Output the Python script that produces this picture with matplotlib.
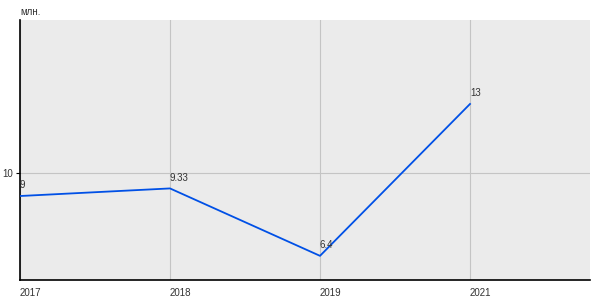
import matplotlib.pyplot as plt

plt.rcParams['font.family'] = ['Liberation Sans', 'DejaVu Sans']
plt.rcParams['font.size'] = 7

years = ['2017', '2018', '2019', '2021']
values = [9, 9.33, 6.4, 13]
value_labels = ['9', '9.33', '6.4', '13']
y_ticks = [10]

fig = plt.figure(figsize=(6, 3), dpi=100)
ax = fig.add_axes([20 / 600, 20 / 300, 570 / 600, 260 / 300])
ax.set_facecolor('#ebebeb')

x = list(range(len(years)))
ax.plot(x, values, color='#0050e6', linewidth=1.3, zorder=3)

for xi, v, lab in zip(x, values, value_labels):
    ax.annotate(lab, (xi, v), xytext=(0, 4), textcoords='offset points',
                ha='left', va='bottom', fontsize=7, color='#333333', zorder=4)

ax.set_xlim(0, 3.8)
ax.set_ylim(5.35, 16.65)
ax.set_xticks(x)
ax.set_xticklabels(years, ha='left')
ax.set_yticks(y_ticks)
ax.set_yticklabels([str(t) for t in y_ticks])
ax.tick_params(axis='x', length=0, pad=6, labelcolor='#333333')
ax.tick_params(axis='y', length=3, width=0.8, pad=2, labelcolor='#333333')
ax.grid(True, color='#c4c4c4', linewidth=0.8)
ax.set_axisbelow(True)

for s in ['top', 'right']:
    ax.spines[s].set_visible(False)
for s in ['left', 'bottom']:
    ax.spines[s].set_color('black')
    ax.spines[s].set_linewidth(1.2)

fig.text(20 / 600, 1 - 12 / 300, 'млн.', ha='left', va='center', fontsize=7, color='#333333')

fig.savefig('out.png', dpi=100)
